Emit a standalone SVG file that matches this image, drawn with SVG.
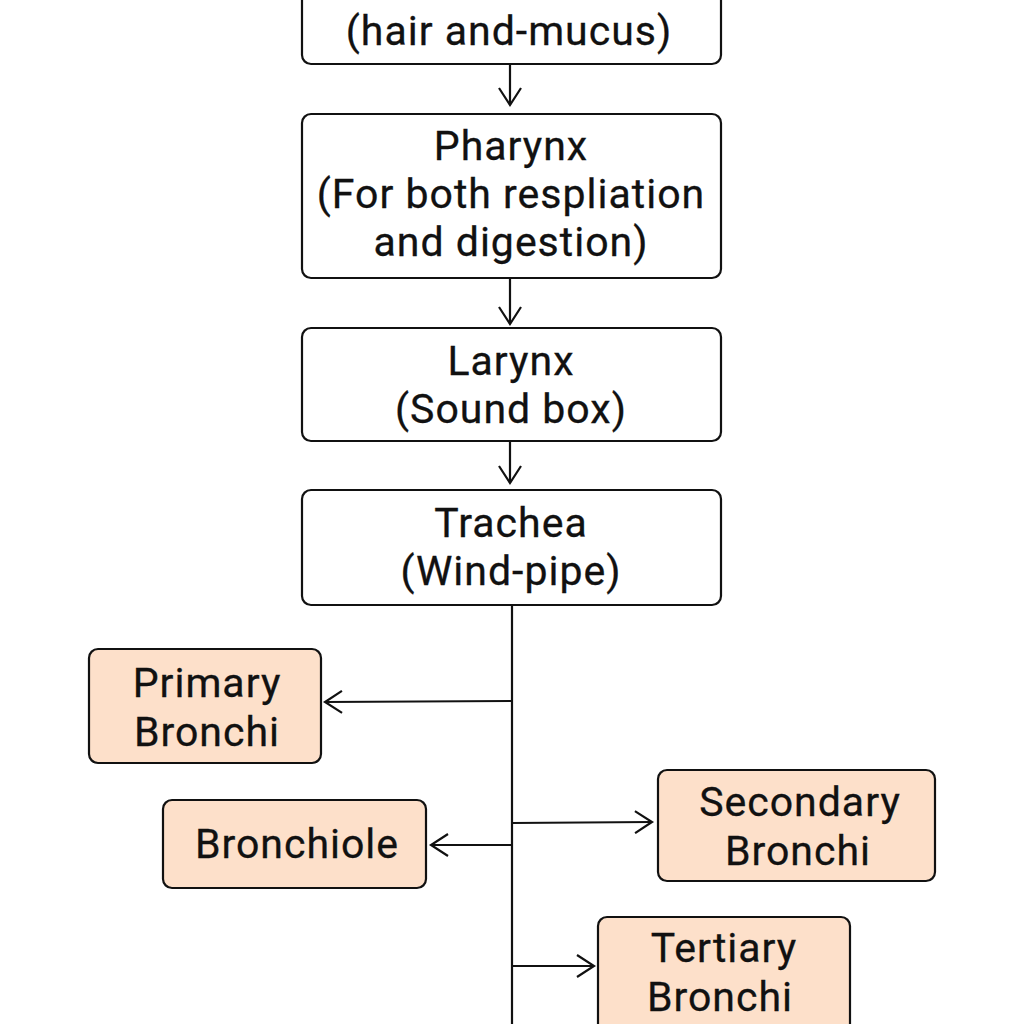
<svg xmlns="http://www.w3.org/2000/svg" width="1024" height="1024" viewBox="0 0 1024 1024">
<defs>
<style>
.box{fill:#fff;stroke:#111;stroke-width:2.2}
.pbox{fill:#fde0ca;stroke:#111;stroke-width:2.2}
.t{font-family:Roboto,"Noto Sans",sans-serif;font-size:41px;letter-spacing:1px;fill:#111;stroke:#111;stroke-width:0.3;text-anchor:middle}
.c{stroke:#111;stroke-width:2.2;fill:none}
</style>
<marker id="ah" markerWidth="24" markerHeight="24" refX="19" refY="12" orient="auto" markerUnits="userSpaceOnUse">
<path d="M2,1 L19,12 L2,23" fill="none" stroke="#111" stroke-width="2.2"/>
</marker>
</defs>
<rect width="1024" height="1024" fill="#fff"/>
<g id="connectors">
<line class="c" x1="510" y1="65" x2="510" y2="105" marker-end="url(#ah)"/>
<line class="c" x1="510" y1="279" x2="510" y2="324" marker-end="url(#ah)"/>
<line class="c" x1="510" y1="442" x2="510" y2="483" marker-end="url(#ah)"/>
<line class="c" x1="512" y1="606" x2="512" y2="1024"/>
<line class="c" x1="512" y1="701" x2="325" y2="702" marker-end="url(#ah)"/>
<line class="c" x1="512" y1="845" x2="431" y2="845" marker-end="url(#ah)"/>
<line class="c" x1="512" y1="823" x2="652" y2="822" marker-end="url(#ah)"/>
<line class="c" x1="512" y1="966" x2="594" y2="966" marker-end="url(#ah)"/>
</g>
<g id="nose">
<rect class="box" x="302" y="-20" width="419" height="84" rx="9"/>
<text class="t" x="509" y="45">(hair and-mucus)</text>
</g>
<g id="pharynx">
<rect class="box" x="302" y="114" width="419" height="164" rx="9"/>
<text class="t" x="511" y="160">Pharynx</text>
<text class="t" x="511" y="208">(For both respliation</text>
<text class="t" x="511" y="256">and digestion)</text>
</g>
<g id="larynx">
<rect class="box" x="302" y="328" width="419" height="113" rx="9"/>
<text class="t" x="511" y="375">Larynx</text>
<text class="t" x="511" y="423">(Sound box)</text>
</g>
<g id="trachea">
<rect class="box" x="302" y="490" width="419" height="115" rx="9"/>
<text class="t" x="511" y="537">Trachea</text>
<text class="t" x="511" y="585">(Wind-pipe)</text>
</g>
<g id="primary">
<rect class="pbox" x="89" y="649" width="232" height="114" rx="9"/>
<text class="t" x="207" y="697">Primary</text>
<text class="t" x="207" y="746">Bronchi</text>
</g>
<g id="bronchiole">
<rect class="pbox" x="163" y="800" width="263" height="88" rx="9"/>
<text class="t" x="297" y="858">Bronchiole</text>
</g>
<g id="secondary">
<rect class="pbox" x="658" y="770" width="277" height="111" rx="9"/>
<text class="t" x="800" y="816">Secondary</text>
<text class="t" x="798" y="865">Bronchi</text>
</g>
<g id="tertiary">
<rect class="pbox" x="598" y="917" width="252" height="120" rx="9"/>
<text class="t" x="724" y="962">Tertiary</text>
<text class="t" x="720" y="1011">Bronchi</text>
</g>
</svg>
